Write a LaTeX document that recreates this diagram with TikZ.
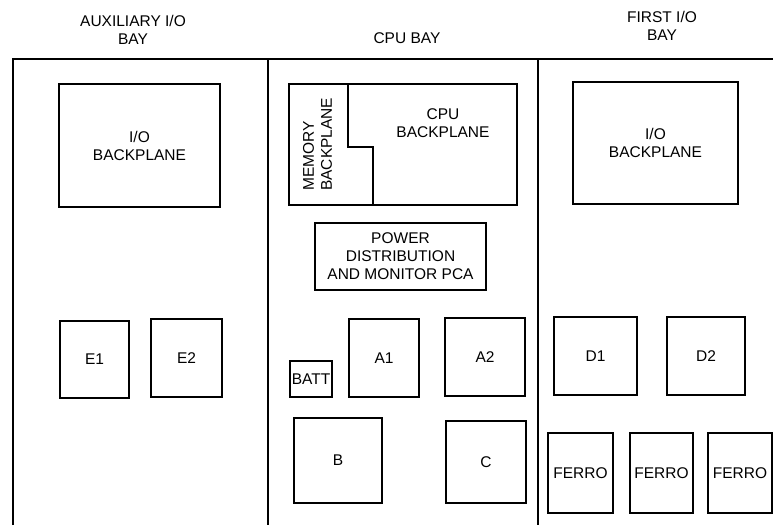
\documentclass[tikz,border=0pt]{standalone}
\usepackage{fontspec}
\setmainfont{Liberation Sans}
\begin{document}
\begin{tikzpicture}[x=1pt,y=-1pt,
  frame/.style={line width=1.8pt},
  box/.style={draw, line width=1.3pt, rectangle, inner sep=0pt, align=center,
    font=\fontsize{15.5}{18}\selectfont},
  title/.style={inner sep=0pt, align=center, font=\fontsize{15.5}{18.5}\selectfont},
  lbl/.style={inner sep=0pt, align=center, font=\fontsize{15.5}{18}\selectfont}]
\useasboundingbox (0,0) rectangle (773,525);
% bay frame
\coordinate (tl) at (13,59);
\coordinate (bl) at (13,525);
\coordinate (tr) at (773,59);
\coordinate (d1t) at (268,59);
\coordinate (d1b) at (268,525);
\coordinate (d2t) at (538,59);
\coordinate (d2b) at (538,525);
\draw[frame] (bl) -- (tl) -- (tr);
\draw[frame] (d1t) -- (d1b);
\draw[frame] (d2t) -- (d2b);
% titles
\node[title] (t1) at (133,30) {AUXILIARY I/O\\BAY};
\node[title] (t2) at (407,38) {CPU BAY};
\node[title] (t3) at (662,26) {FIRST I/O\\BAY};
% auxiliary bay
\node[box, minimum width=161, minimum height=123] (iol) at (139.5,145.5) {I/O\\BACKPLANE};
\node[box, minimum width=69, minimum height=77] (e1) at (94.5,359.5) {E1};
\node[box, minimum width=71, minimum height=78] (e2) at (186.5,358) {E2};
% cpu bay
\node[box, minimum width=228, minimum height=121] (bp) at (403,144.5) {};
\coordinate (p1) at (348,84);
\coordinate (p2) at (348,147);
\coordinate (p3) at (373,147);
\coordinate (p4) at (373,205);
\draw[line width=1.3pt] (p1) -- (p2) -- (p3) -- (p4);
\node[lbl] (cpu) at (443,123) {CPU\\BACKPLANE};
\node[lbl, rotate=90, anchor=west, align=left] (mem) at (317.5,191) {MEMORY\\BACKPLANE};
\node[box, minimum width=171, minimum height=67] (pwr) at (400.5,256.5) {POWER\\DISTRIBUTION\\AND MONITOR PCA};
\node[box, minimum width=42, minimum height=36] (batt) at (311,379) {BATT};
\node[box, minimum width=70, minimum height=78] (a1) at (384,358) {A1};
\node[box, minimum width=80, minimum height=78] (a2) at (485,357) {A2};
\node[box, minimum width=88, minimum height=85] (b) at (338,460.5) {B};
\node[box, minimum width=80, minimum height=82] (c) at (486,462) {C};
% first i/o bay
\node[box, minimum width=165, minimum height=122] (ior) at (655.5,143) {I/O\\BACKPLANE};
\node[box, minimum width=83, minimum height=78] (d1) at (595.5,356) {D1};
\node[box, minimum width=78, minimum height=78] (d2) at (706,356) {D2};
\node[box, minimum width=65, minimum height=80] (f1) at (580.5,473) {FERRO};
\node[box, minimum width=63, minimum height=80] (f2) at (661.5,473) {FERRO};
\node[box, minimum width=64, minimum height=80] (f3) at (740,473) {FERRO};
\end{tikzpicture}
\end{document}
